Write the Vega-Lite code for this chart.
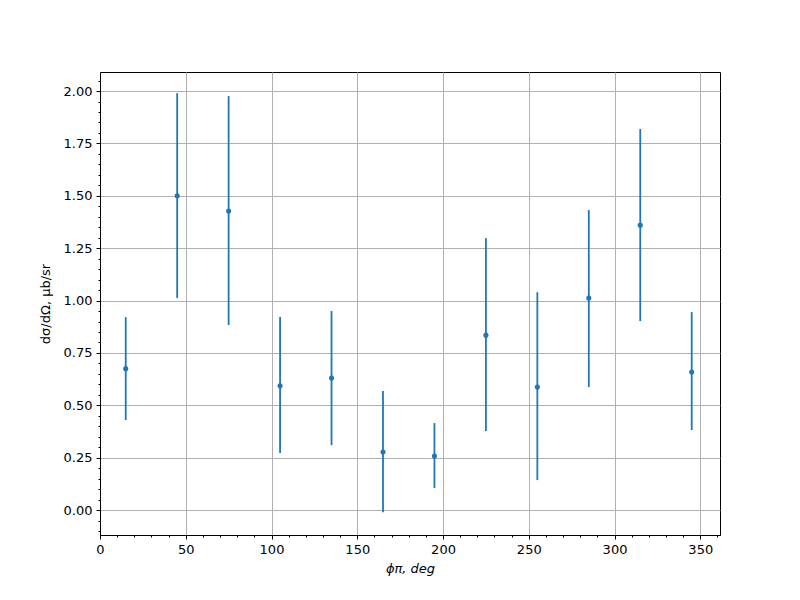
{
  "$schema": "https://vega.github.io/schema/vega-lite/v6.json",
  "width": 620,
  "height": 463,
  "autosize": "none",
  "padding": {"left": 100, "top": 72, "right": 80, "bottom": 65},
  "background": "white",
  "config": {
    "view": {"stroke": "black", "strokeWidth": 1},
    "font": "DejaVu Sans",
    "axis": {
      "labelFont": "DejaVu Sans",
      "titleFont": "DejaVu Sans",
      "labelFontSize": 13,
      "titleFontSize": 13,
      "titleFontWeight": "normal",
      "labelColor": "black",
      "titleColor": "black",
      "domainColor": "black",
      "tickColor": "black",
      "gridColor": "#b0b0b0",
      "gridWidth": 1,
      "tickSize": 4,
      "labelPadding": 4,
      "labelFlush": false
    }
  },
  "data": {
    "values": [
      {"phi": 15, "y": 0.675, "lo": 0.43, "hi": 0.921},
      {"phi": 45, "y": 1.50, "lo": 1.012, "hi": 1.99},
      {"phi": 75, "y": 1.427, "lo": 0.883, "hi": 1.976},
      {"phi": 105, "y": 0.593, "lo": 0.272, "hi": 0.921},
      {"phi": 135, "y": 0.63, "lo": 0.31, "hi": 0.95},
      {"phi": 165, "y": 0.277, "lo": -0.01, "hi": 0.568},
      {"phi": 195, "y": 0.258, "lo": 0.105, "hi": 0.415},
      {"phi": 225, "y": 0.835, "lo": 0.377, "hi": 1.298},
      {"phi": 255, "y": 0.587, "lo": 0.143, "hi": 1.04},
      {"phi": 285, "y": 1.012, "lo": 0.587, "hi": 1.432},
      {"phi": 315, "y": 1.36, "lo": 0.902, "hi": 1.819},
      {"phi": 345, "y": 0.659, "lo": 0.382, "hi": 0.945}
    ]
  },
  "resolve": {"axis": {"x": "independent", "y": "independent"}},
  "layer": [
    {
      "mark": {"type": "rule", "color": "#1f77b4", "strokeWidth": 1.8},
      "encoding": {
        "x": {"field": "phi", "type": "quantitative",
              "scale": {"domain": [0, 361.5], "nice": false, "zero": false},
              "axis": {"values": [0, 50, 100, 150, 200, 250, 300, 350], "title": "ϕπ, deg", "titleFontStyle": "italic", "grid": true, "tickSize": 4, "titlePadding": 6}},
        "y": {"field": "lo", "type": "quantitative",
              "scale": {"domain": [-0.119, 2.091], "nice": false, "zero": false},
              "axis": {"values": [0, 0.25, 0.5, 0.75, 1.0, 1.25, 1.5, 1.75, 2.0], "format": ".2f", "title": "dσ/dΩ, μb/sr", "grid": true, "titlePadding": 11}},
        "y2": {"field": "hi"}
      }
    },
    {
      "mark": {"type": "point", "filled": true, "opacity": 1, "color": "#1f77b4", "size": 26},
      "encoding": {
        "x": {"field": "phi", "type": "quantitative",
              "axis": {"orient": "bottom", "values": [10, 20, 30, 40, 60, 70, 80, 90, 110, 120, 130, 140, 160, 170, 180, 190, 210, 220, 230, 240, 260, 270, 280, 290, 310, 320, 330, 340, 360], "labels": false, "title": null, "grid": false, "tickSize": 2, "domain": false}},
        "y": {"field": "y", "type": "quantitative",
              "axis": {"orient": "left", "values": [-0.1, -0.05, 0.05, 0.1, 0.15, 0.2, 0.3, 0.35, 0.4, 0.45, 0.55, 0.6, 0.65, 0.7, 0.8, 0.85, 0.9, 0.95, 1.05, 1.1, 1.15, 1.2, 1.3, 1.35, 1.4, 1.45, 1.55, 1.6, 1.65, 1.7, 1.8, 1.85, 1.9, 1.95, 2.05], "labels": false, "title": null, "grid": false, "tickSize": 2, "domain": false}}
      }
    }
  ]
}
